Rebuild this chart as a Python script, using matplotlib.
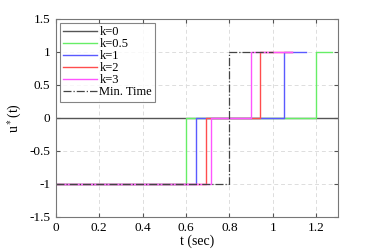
import matplotlib
matplotlib.use("Agg")
import matplotlib.pyplot as plt

plt.rcParams["font.family"] = ["Liberation Serif", "DejaVu Serif"]
plt.rcParams["mathtext.fontset"] = "stix"

# ---------------------------------------------------
# Data (switching curves)
# ---------------------------------------------------

labels = ["k=0", "k=0.5", "k=1", "k=2", "k=3", "Min. Time"]

t_k0 = [0, 1.3]
u_k0 = [0, 0]

t_k05 = [0, 0.60, 0.60, 1.20, 1.20, 1.27]
u_k05 = [-1, -1, 0, 0, 1, 1]

t_k1 = [0, 0.645, 0.645, 1.05, 1.05, 1.15]
u_k1 = [-1, -1, 0, 0, 1, 1]

t_k2 = [0, 0.69, 0.69, 0.94, 0.94, 1.09]
u_k2 = [-1, -1, 0, 0, 1, 1]

t_k3 = [0, 0.715, 0.715, 0.90, 0.90, 1.09]
u_k3 = [-1, -1, 0, 0, 1, 1]

t_min = [0, 0.80, 0.80, 1.00]
u_min = [-1, -1, 1, 1]

xticks = [0, 0.2, 0.4, 0.6, 0.8, 1, 1.2]
yticks = [-1.5, -1, -0.5, 0, 0.5, 1, 1.5]

# ---------------------------------------------------
# Plot
# ---------------------------------------------------

fig = plt.figure(figsize=(3.74, 2.49), dpi=100)
ax = fig.add_axes([0.149, 0.129, 0.755, 0.795])

ax.plot(t_k0, u_k0, color="#555555", lw=1.0, label=labels[0])
ax.plot(t_k05, u_k05, color="#66ee66", lw=1.0, label=labels[1])
ax.plot(t_k1, u_k1, color="#5a5aff", lw=1.0, label=labels[2])
ax.plot(t_k2, u_k2, color="#ff4d4d", lw=1.0, label=labels[3])
ax.plot(t_k3, u_k3, color="#ff55ff", lw=1.0, label=labels[4])
ax.plot(t_min, u_min, color="#444444", lw=0.9, ls="-.", label=labels[5])

ax.set_xlim(0, 1.3)
ax.set_ylim(-1.5, 1.5)
ax.set_xticks(xticks)
ax.set_xticklabels(["0", "0.2", "0.4", "0.6", "0.8", "1", "1.2"])
ax.set_yticks(yticks)
ax.set_yticklabels(["-1.5", "-1", "-0.5", "0", "0.5", "1", "1.5"])

ax.grid(True, ls=(0, (4, 3)), color="#dddddd", lw=0.7)
ax.tick_params(direction="in", length=3, labelsize=9.5, right=True, top=True,
               color="#555555", pad=4)
for s in ax.spines.values():
    s.set_color("#777777")
    s.set_linewidth(0.8)

ax.set_xlabel("t (sec)", fontsize=10, labelpad=0)
ax.set_ylabel("u$^*$(t)", fontsize=10, labelpad=4)

leg = ax.legend(loc="upper left", fontsize=9, frameon=True, fancybox=False,
                handlelength=2.7, handletextpad=0.2, labelspacing=0.0,
                borderpad=0.25, borderaxespad=0.35)
leg.get_frame().set_edgecolor("#666666")
leg.get_frame().set_linewidth(0.8)

fig.savefig("out.png", dpi=100)
